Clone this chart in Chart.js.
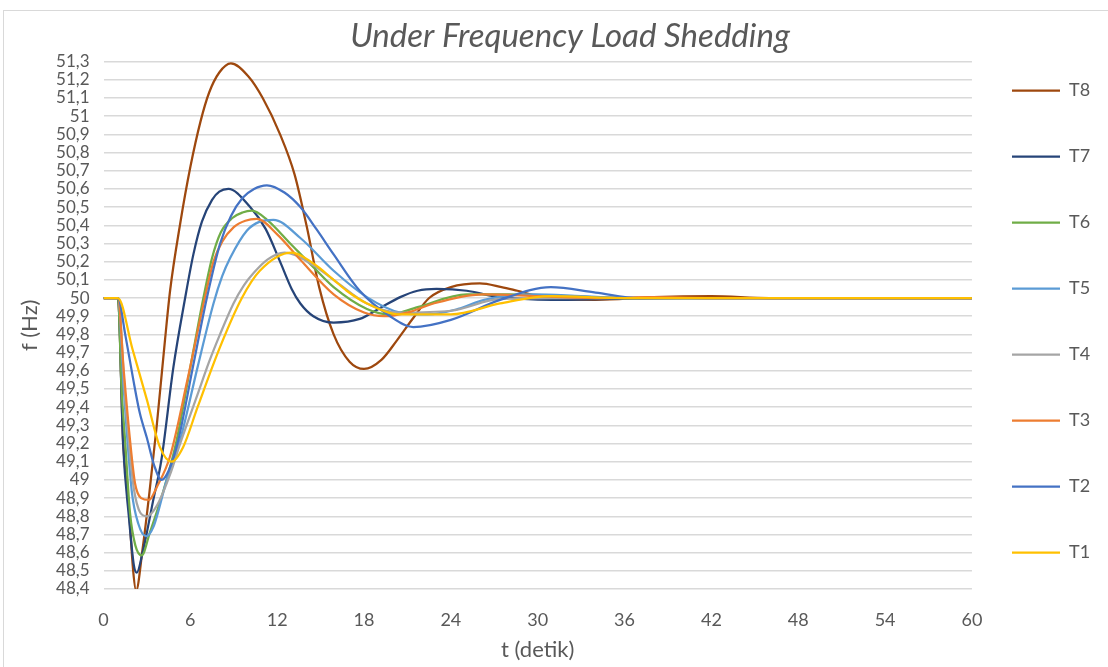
<!DOCTYPE html>
<html>
<head>
<meta charset="utf-8">
<script src="https://cdn.jsdelivr.net/npm/chart.js@4/dist/chart.umd.min.js"></script>
<style>
html,body{margin:0;padding:0;background:#fff;}
#wrap{position:relative;width:1108px;height:667px;}
</style>
</head>
<body>
<div id="wrap"><canvas id="c" width="1108" height="667"></canvas></div>
<script>
// ---- data (t in seconds, f in Hz) ----
const seriesLabels = ['T1','T2','T3','T4','T5','T6','T7','T8'];

const tT1 = [0, 1, 2, 3, 3.9, 4.7, 5.5, 6.5, 8.05, 9.56, 10.8, 13.0, 14.5, 15.9, 16.8, 18.2, 20.5, 24, 27.4, 30.9, 36, 42, 48, 54, 60];
const fT1 = [50, 50, 49.72, 49.44, 49.18, 49.10, 49.18, 49.40, 49.73, 50.0, 50.15, 50.25, 50.19, 50.10, 50.04, 49.97, 49.91, 49.91, 49.97, 50.01, 50, 50, 50, 50, 50];

const tT2 = [0, 1, 1.5, 2.06, 2.5, 3.0, 3.5, 4.0, 4.5, 5.17, 6.2, 7.14, 8.06, 8.8, 9.6, 10.4, 11.29, 12.5, 13.6, 14.7, 15.9, 17.7, 19.8, 21.4, 24, 27.4, 30.9, 34, 37, 42, 48, 54, 60];
const fT2 = [50, 50, 49.8, 49.55, 49.37, 49.23, 49.08, 49.0, 49.05, 49.22, 49.63, 50.0, 50.3, 50.45, 50.55, 50.60, 50.62, 50.58, 50.50, 50.38, 50.24, 50.04, 49.90, 49.84, 49.88, 49.99, 50.06, 50.03, 50.0, 50, 50, 50, 50];

const tT3 = [0, 1, 1.4, 1.83, 2.18, 2.6, 3.15, 3.68, 4.6, 5.8, 7.0, 7.6, 8.2, 9.0, 9.8, 10.6, 12.0, 13.6, 15.9, 18.0, 19.4, 21, 22.8, 26.3, 30, 34, 38, 42, 48, 54, 60];
const fT3 = [50, 50, 49.6, 49.22, 48.98, 48.9, 48.89, 48.96, 49.13, 49.55, 50.0, 50.2, 50.31, 50.39, 50.425, 50.435, 50.35, 50.21, 50.02, 49.92, 49.90, 49.92, 49.97, 50.02, 50.01, 50.0, 50.005, 50, 50, 50, 50];

const tT4 = [0, 1, 1.5, 2.1, 2.99, 3.7, 4.6, 5.3, 6.5, 7.3, 8.05, 8.98, 9.7, 10.4, 11.3, 12.5, 14.5, 15.9, 18.2, 20.5, 24, 27.4, 31, 36, 42, 48, 54, 60];
const fT4 = [50, 50, 49.45, 48.95, 48.80, 48.86, 49.03, 49.2, 49.47, 49.65, 49.80, 49.97, 50.07, 50.14, 50.21, 50.25, 50.18, 50.10, 49.97, 49.92, 49.93, 49.995, 50.0, 50, 50, 50, 50, 50];

const tT5 = [0, 1, 1.4, 1.95, 2.4, 2.94, 3.44, 4.37, 5.3, 6.5, 7.6, 8.2, 8.75, 9.9, 10.8, 11.74, 13.6, 15.9, 18.2, 20.5, 22.4, 24.5, 26.3, 29.7, 33, 36, 42, 48, 54, 60];
const fT5 = [50, 50, 49.5, 48.94, 48.76, 48.69, 48.74, 49.0, 49.22, 49.62, 49.97, 50.12, 50.22, 50.37, 50.42, 50.43, 50.33, 50.15, 50.005, 49.92, 49.91, 49.94, 49.99, 50.02, 50.01, 50.0, 50, 50, 50, 50];

const tT6 = [0, 1, 1.25, 1.49, 1.83, 2.2, 2.64, 3.2, 4.14, 5.06, 6.0, 6.9, 7.5, 8.1, 8.9, 9.6, 10.25, 11.3, 12.9, 14.5, 15.9, 18.2, 19.8, 21.7, 25.1, 28, 32, 36, 42, 48, 54, 60];
const fT6 = [50, 50, 49.5, 49.22, 48.82, 48.64, 48.585, 48.71, 48.94, 49.22, 49.62, 50.0, 50.22, 50.36, 50.44, 50.47, 50.48, 50.43, 50.30, 50.17, 50.06, 49.94, 49.91, 49.95, 50.02, 50.02, 50.01, 50.0, 50, 50, 50, 50];

const tT7 = [0, 1, 1.35, 1.75, 2.1, 2.3, 2.7, 3.44, 4.0, 4.83, 5.64, 6.21, 6.8, 7.5, 8.0, 8.63, 10.13, 11.2, 12.2, 13.0, 13.6, 14.5, 15.9, 17.7, 19.0, 20.5, 21.7, 23.0, 25.1, 27, 29, 31, 35, 40, 45, 50, 55, 60];
const fT7 = [50, 50, 49.2, 48.8, 48.53, 48.49, 48.6, 48.89, 49.11, 49.62, 50.0, 50.24, 50.42, 50.54, 50.585, 50.60, 50.50, 50.38, 50.20, 50.05, 49.97, 49.90, 49.865, 49.885, 49.94, 50.005, 50.04, 50.05, 50.04, 50.01, 49.995, 49.99, 49.995, 50.0, 50, 50, 50, 50];

const tT8 = [0, 1, 1.35, 1.75, 2.05, 2.25, 2.7, 3.2, 3.68, 4.25, 4.6, 5.3, 6.0, 6.7, 7.3, 8.0, 8.8, 10.0, 11.0, 12.2, 13.2, 14.05, 14.9, 15.9, 17.0, 18.0, 19.2, 20.3, 21.4, 22.5, 24, 26, 27.5, 28.6, 31, 34, 38, 42, 46, 50, 55, 60];
const fT8 = [50, 50, 49.22, 48.85, 48.5, 48.39, 48.62, 48.95, 49.3, 49.77, 50.04, 50.41, 50.72, 50.97, 51.13, 51.24, 51.29, 51.22, 51.10, 50.90, 50.68, 50.39, 50.06, 49.80, 49.65, 49.61, 49.66, 49.77, 49.89, 50.0, 50.06, 50.08, 50.06, 50.04, 49.995, 49.99, 50.005, 50.01, 50.0, 50, 50, 50];

const seriesT = [tT1, tT2, tT3, tT4, tT5, tT6, tT7, tT8];
const seriesF = [fT1, fT2, fT3, fT4, fT5, fT6, fT7, fT8];
const seriesColors = ['#FFC000','#4472C4','#ED7D31','#A5A5A5','#5B9BD5','#70AD47','#264478','#9E480E'];

const xTickValues = [0, 6, 12, 18, 24, 30, 36, 42, 48, 54, 60];
const yTickValues = [48.4, 48.5, 48.6, 48.7, 48.8, 48.9, 49, 49.1, 49.2, 49.3, 49.4, 49.5, 49.6, 49.7, 49.8, 49.9,
                     50, 50.1, 50.2, 50.3, 50.4, 50.5, 50.6, 50.7, 50.8, 50.9, 51, 51.1, 51.2, 51.3];

const titleText = 'Under Frequency Load Shedding';
const xTitle = 't (detik)';
const yTitle = 'f (Hz)';

// ---- chart ----
const FONT = "Lato, 'Open Sans', sans-serif";
const TXT = '#595959';

const fmt = v => {
  const r = Math.round(v * 10) / 10;
  return (Number.isInteger(r) ? String(r) : r.toFixed(1)).replace('.', ',');
};

const datasets = seriesLabels.map((lab, i) => ({
  label: lab,
  data: seriesT[i].map((t, k) => ({x: t, y: seriesF[i][k]})),
  borderColor: seriesColors[i],
  backgroundColor: seriesColors[i],
  borderWidth: 2.25,
  pointRadius: 0,
  pointHoverRadius: 0,
  fill: false,
  cubicInterpolationMode: 'monotone',
  pointStyle: 'line'
}));

const tweak = {
  id: 'tweak',
  beforeDraw(chart) {
    const ctx = chart.ctx;
    ctx.save();
    ctx.fillStyle = '#fff';
    ctx.fillRect(0, 0, chart.width, chart.height);
    ctx.strokeStyle = '#d9d9d9';
    ctx.lineWidth = 1;
    ctx.strokeRect(3.5, 10.5, chart.width + 20, chart.height + 20);
    ctx.restore();
  },
  afterLayout(chart) {
    const lg = chart.legend;
    if (lg) {
      const dx = 1012 - (lg.left + lg.options.labels.padding);
      lg.left += dx; lg.right += dx; lg.top -= 12; lg.bottom -= 12;
    }
    const tb = chart.titleBlock;
    if (tb) { tb.left += 12; tb.right += 12; }
  }
};

new Chart(document.getElementById('c'), {
  type: 'line',
  data: { datasets },
  plugins: [tweak],
  options: {
    responsive: false,
    animation: false,
    devicePixelRatio: 1,
    layout: { padding: { left: 8, right: 0, top: 0, bottom: 0 } },
    plugins: {
      title: {
        display: true,
        text: titleText,
        color: TXT,
        font: { family: FONT, size: 33, style: 'italic', weight: 'normal' },
        padding: { top: 17, bottom: 5 }
      },
      legend: {
        display: true,
        position: 'right',
        reverse: true,
        fullSize: true,
        labels: {
          color: TXT,
          font: { family: FONT, size: 18 },
          usePointStyle: true,
          pointStyle: 'line',
          pointStyleWidth: 48,
          boxWidth: 48,
          padding: 48
        }
      },
      tooltip: { enabled: false }
    },
    scales: {
      x: {
        type: 'linear',
        min: 0, max: 60,
        afterBuildTicks: s => { s.ticks = xTickValues.map(v => ({value: v})); },
        afterFit: s => { s.height = 78; },
        grid: { display: false, drawTicks: false },
        border: { display: false },
        ticks: { color: TXT, font: { family: FONT, size: 18 }, padding: 20, maxRotation: 0 },
        title: { display: true, text: xTitle, color: TXT, font: { family: FONT, size: 22 }, padding: { top: 4, bottom: 4 } }
      },
      y: {
        type: 'linear',
        min: 48.4, max: 51.3,
        afterBuildTicks: s => { s.ticks = yTickValues.map(v => ({value: v})); },
        afterFit: s => { s.width = 95.5; },
        grid: { color: '#d9d9d9', lineWidth: 1.5, drawTicks: false },
        border: { display: false },
        ticks: { color: TXT, font: { family: FONT, size: 17 }, padding: 14, callback: v => fmt(v), autoSkip: false },
        title: { display: true, text: yTitle, color: TXT, font: { family: FONT, size: 22 }, padding: { top: 9, bottom: 4 } }
      }
    }
  }
});
</script>
</body>
</html>
